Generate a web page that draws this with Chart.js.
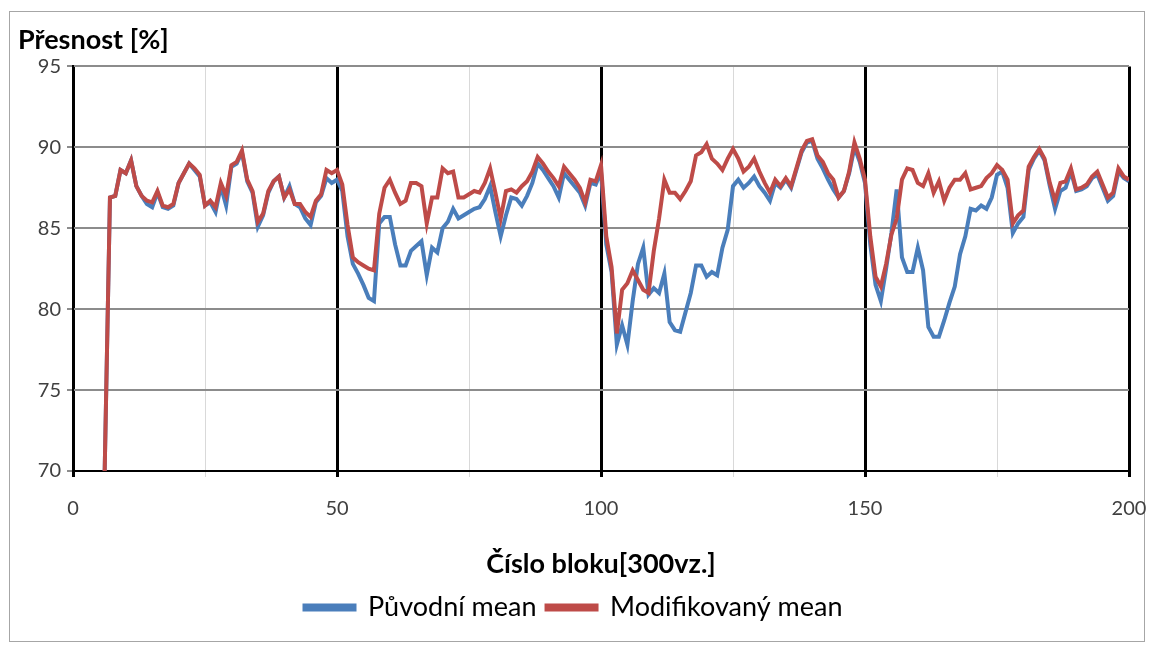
<!DOCTYPE html>
<html>
<head>
<meta charset="utf-8">
<script src="https://cdn.jsdelivr.net/npm/chart.js@4.4.1/dist/chart.umd.min.js"></script>
<style>
  html, body { margin: 0; padding: 0; background: #fff; }
  #wrap { position: relative; width: 1151px; height: 646px; }
  #frame { position: absolute; left: 9px; top: 11px; width: 1136px; height: 631px; border: 1.5px solid #a6a6a6; box-sizing: border-box; }
  canvas { position: absolute; left: 0; top: 0; }
</style>
</head>
<body>
<div id="wrap">
  <div id="frame"></div>
  <canvas id="myChart" width="1151" height="646"></canvas>
</div>
<script>
// block numbers 6..200
var blockNo = [];
for (var i = 6; i <= 200; i++) blockNo.push(i);

// Původní mean (blocks 6..200)
var puvodni = [
  70.0, 86.9, 87.0, 88.6, 88.4, 89.2, 87.6, 87.0, 86.5, 86.3,
  87.2, 86.3, 86.2, 86.4, 87.8, 88.4, 89.0, 88.6, 88.2, 86.4,
  86.6, 86.0, 87.6, 86.4, 88.8, 89.0, 89.7, 87.9, 87.2, 85.1,
  85.8, 87.2, 87.9, 88.2, 86.9, 87.6, 86.5, 86.3, 85.6, 85.2,
  86.6, 87.0, 88.1, 87.8, 88.0,
  87.3, 84.5, 82.8, 82.2, 81.5, 80.7, 80.5, 85.3, 85.7, 85.7,
  84.0, 82.7, 82.7, 83.6, 83.9, 84.2, 82.1, 83.8, 83.5, 85.0,
  85.4, 86.2, 85.6, 85.8, 86.0, 86.2, 86.3, 86.8, 87.6, 86.0,
  84.5, 85.8, 86.9, 86.8, 86.4, 87.0, 87.8, 89.0, 88.6, 88.1,
  87.6, 86.9, 88.4, 88.0, 87.6, 87.2, 86.4, 87.8, 87.7, 88.5,
  84.0, 82.3, 77.8, 79.0, 77.8, 80.5, 82.8, 83.8, 80.9, 81.3,
  81.0, 82.2, 79.2, 78.7, 78.6, 79.8, 81.0, 82.7, 82.7, 82.0,
  82.3, 82.1, 83.8, 84.9, 87.6, 88.0, 87.5, 87.8, 88.2, 87.6,
  87.2, 86.7, 87.8, 87.5, 88.0, 87.5, 88.6, 89.7, 90.3, 90.4,
  89.3, 88.7, 88.0, 87.4, 86.9, 87.3, 88.4, 90.0, 89.1, 87.8,
  84.0, 81.5, 80.5, 82.5, 84.7, 87.4, 83.2, 82.3, 82.3, 83.8,
  82.4, 78.9, 78.3, 78.3, 79.3, 80.4, 81.4, 83.4, 84.5, 86.2,
  86.1, 86.4, 86.2, 86.9, 88.3, 88.5, 87.5, 84.7, 85.3, 85.7,
  88.6, 89.3, 89.8, 89.2, 87.6, 86.2, 87.3, 87.5, 88.5, 87.3,
  87.4, 87.6, 88.1, 88.3, 87.5, 86.7, 87.0, 88.5, 88.1, 87.9
];

// Modifikovaný mean
var modifikovany = [
  70.0, 86.9, 87.0, 88.6, 88.4, 89.2, 87.6, 87.0, 86.7, 86.6,
  87.3, 86.4, 86.3, 86.5, 87.8, 88.4, 89.0, 88.7, 88.3, 86.4,
  86.7, 86.3, 87.8, 87.0, 88.9, 89.1, 89.8, 88.0, 87.3, 85.4,
  85.9, 87.3, 87.9, 88.2, 86.9, 87.4, 86.5, 86.5, 86.0, 85.7,
  86.7, 87.1, 88.6, 88.4, 88.6,
  87.7, 85.2, 83.2, 82.9, 82.7, 82.5, 82.4, 85.9, 87.5, 88.0,
  87.2, 86.5, 86.7, 87.8, 87.8, 87.6, 85.3, 86.9, 86.9, 88.7,
  88.4, 88.5, 86.9, 86.9, 87.1, 87.3, 87.2, 87.8, 88.7, 87.2,
  85.6, 87.3, 87.4, 87.2, 87.6, 87.9, 88.5, 89.4, 89.0, 88.5,
  88.1, 87.6, 88.8, 88.4, 88.0, 87.5, 86.6, 88.0, 87.9, 88.9,
  84.5, 82.6, 78.5, 81.2, 81.6, 82.4, 81.8, 81.2, 81.0, 83.6,
  85.6, 88.0, 87.2, 87.2, 86.8, 87.3, 87.9, 89.5, 89.7, 90.2,
  89.3, 89.0, 88.6, 89.3, 89.9, 89.3, 88.5, 88.8, 89.3, 88.5,
  87.8, 87.2, 88.0, 87.6, 88.1, 87.6, 88.7, 89.8, 90.4, 90.5,
  89.5, 89.1, 88.4, 88.0, 86.9, 87.3, 88.5, 90.3, 89.3, 88.0,
  84.5, 82.0, 81.4, 82.8, 84.6, 85.6, 88.0, 88.7, 88.6, 87.8,
  87.6, 88.4, 87.2, 87.9, 86.7, 87.5, 88.0, 88.0, 88.4, 87.4,
  87.5, 87.6, 88.1, 88.4, 88.9, 88.6, 88.0, 85.3, 85.8, 86.1,
  88.8, 89.4, 89.9, 89.3, 87.8, 86.7, 87.8, 87.9, 88.7, 87.4,
  87.5, 87.7, 88.2, 88.5, 87.7, 86.9, 87.2, 88.7, 88.2, 88.0
];

var seriesNames = ['Původní mean', 'Modifikovaný mean'];
var xTicks = [0, 50, 100, 150, 200];
var yTicks = [70, 75, 80, 85, 90, 95];

function toPoints(vals) {
  return vals.map(function(v, i) { return { x: blockNo[i], y: v }; });
}

var font = 'Lato, "Open Sans", sans-serif';

var ctx = document.getElementById('myChart');
var chart = new Chart(ctx, {
  type: 'line',
  data: {
    datasets: [{
      label: seriesNames[0],
      data: toPoints(puvodni),
      borderColor: '#4a7ebb',
      backgroundColor: '#4a7ebb',
      borderWidth: 4,
      pointRadius: 0,
      order: 2
    }, {
      label: seriesNames[1],
      data: toPoints(modifikovany),
      borderColor: '#be4b48',
      backgroundColor: '#be4b48',
      borderWidth: 4,
      pointRadius: 0,
      order: 1
    }]
  },
  options: {
    responsive: false,
    animation: false,
    layout: { padding: { left: 18, right: 22, top: 10, bottom: 15 } },
    plugins: {
      tooltip: { enabled: false },
      title: {
        display: true,
        text: 'Přesnost [%]',
        align: 'start',
        color: '#000',
        font: { family: font, size: 27, weight: 'bold' },
        padding: { top: 14, bottom: 10 }
      },
      legend: {
        position: 'bottom',
        labels: {
          color: '#000',
          font: { family: font, size: 27 },
          boxWidth: 50,
          boxHeight: 4,
          padding: 10,
          sort: function(a, b) { return a.datasetIndex - b.datasetIndex; }
        }
      }
    },
    scales: {
      x: {
        type: 'linear',
        min: 0,
        max: 200,
        afterFit: function(s) {
          s.height = 113;
          s.paddingLeft = 0;
          s.paddingRight = 0;
        },
        ticks: {
          stepSize: 25,
          color: '#404040',
          font: { family: font, size: 20 },
          padding: 20,
          maxRotation: 0,
          callback: function(v) { return xTicks.indexOf(v) >= 0 ? v : ''; }
        },
        grid: {
          tickLength: 6,
          color: function(c) { return c.tick && c.tick.value % 50 === 0 ? '#000' : '#d9d9d9'; },
          lineWidth: function(c) { return c.tick && c.tick.value % 50 === 0 ? 3 : 1; }
        },
        border: { color: '#000', width: 2 },
        title: {
          display: true,
          text: 'Číslo bloku[300vz.]',
          color: '#000',
          font: { family: font, size: 27, weight: 'bold' },
          padding: { top: 0, bottom: 4 }
        }
      },
      y: {
        min: 70,
        max: 95,
        afterFit: function(s) { s.width = 55; },
        afterBuildTicks: function(s) { s.ticks = yTicks.map(function(v) { return { value: v }; }); },
        ticks: {
          color: '#404040',
          font: { family: font, size: 20 },
          padding: 6
        },
        grid: {
          tickLength: 6,
          color: '#8c8c8c',
          lineWidth: 2
        },
        border: { color: '#000', width: 2 }
      }
    }
  }
});
</script>
</body>
</html>
